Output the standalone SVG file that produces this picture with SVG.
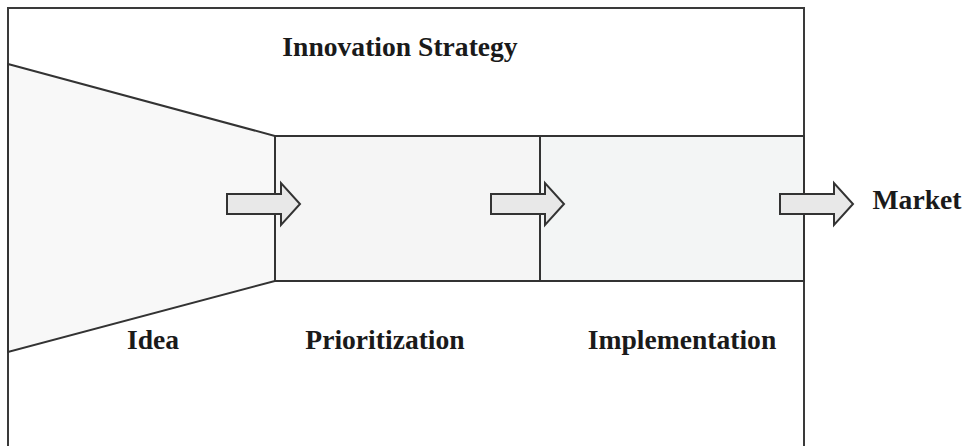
<svg xmlns="http://www.w3.org/2000/svg" width="965" height="446" viewBox="0 0 965 446">
  <defs>
    <style>
      .frame { fill: #ffffff; stroke: #3a3a3a; stroke-width: 2; }
      .stage { stroke: #333333; stroke-width: 2; stroke-linejoin: miter; }
      .flow { fill: #e8e8e8; stroke: #333333; stroke-width: 2; stroke-linejoin: miter; }
      .label { font-family: "Liberation Serif", "Times New Roman", serif; font-weight: bold; font-size: 27.6px; fill: #1a1a1a; text-anchor: middle; }
    </style>
    <!-- block arrow shape, tail at origin, tip at x=73 -->
    <path id="blockArrow" d="M0,-10 H54 V-21 L73,0 L54,21 V10 H0 Z"/>
  </defs>

  <rect width="965" height="446" fill="#ffffff"/>

  <!-- strategy frame, open past the bottom edge -->
  <g id="frame">
    <rect class="frame" x="8" y="8" width="796" height="460"/>
    <text class="label" x="400" y="56">Innovation Strategy</text>
  </g>

  <g id="idea">
    <polygon class="stage" fill="#f8f8f8" points="8,64 275,136 275,281 8,352"/>
    <text class="label" x="153" y="349">Idea</text>
  </g>

  <g id="prioritization">
    <rect class="stage" fill="#f5f5f5" x="275" y="136" width="265" height="145"/>
    <text class="label" x="385" y="349">Prioritization</text>
  </g>

  <g id="implementation">
    <rect class="stage" fill="#f3f5f5" x="540" y="136" width="264" height="145"/>
    <text class="label" x="682" y="349">Implementation</text>
  </g>

  <g id="market">
    <text class="label" x="917" y="209">Market</text>
  </g>

  <g id="connectors">
    <use href="#blockArrow" class="flow" x="227" y="204"/>
    <use href="#blockArrow" class="flow" x="491" y="204"/>
    <use href="#blockArrow" class="flow" x="780" y="204"/>
  </g>
</svg>
